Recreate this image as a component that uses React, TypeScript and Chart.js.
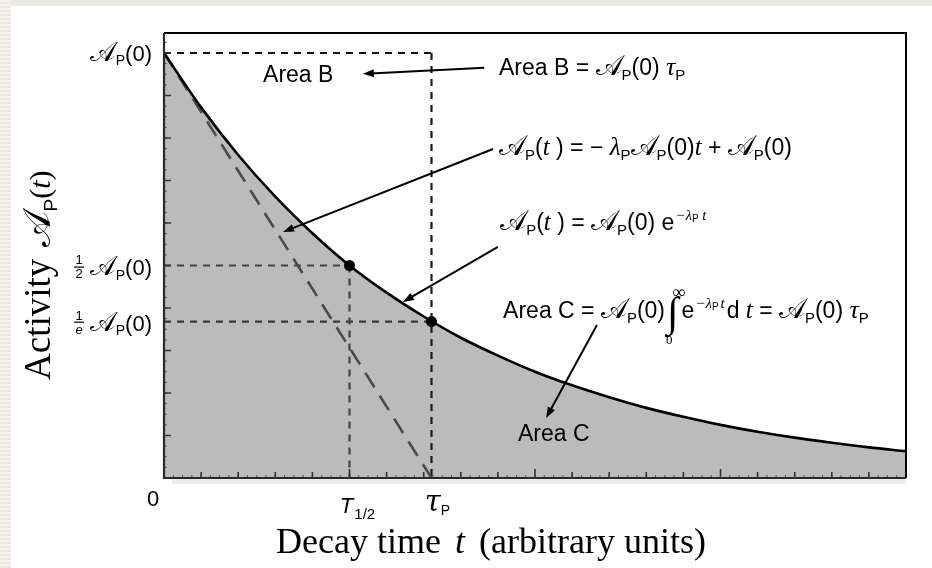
import React, { useEffect, useRef } from "react";
import { Chart, registerables } from "chart.js";

Chart.register(...registerables);

// ---------- data ----------
const decayTimes = [0, 1, 2, 3, 4, 5, 6, 7, 8, 9, 10, 11, 12, 13, 14, 15, 16, 17, 18, 19, 20];
const decayActivity = [10, 8.72, 7.6, 6.62, 5.76, 5.0, 4.36, 3.8, 3.3, 2.88, 2.5, 2.18, 1.9, 1.65, 1.44, 1.25, 1.09, 0.95, 0.83, 0.72, 0.63];
const tangentTimes = [0, 7.21];
const tangentActivity = [10, 0];
const halfLifeTime = 5;
const meanLifeTime = 7.21;
const initialActivity = 10;
const halfActivity = 5;
const eActivity = 3.68;
const markerTimes = [5, 7.21];
const markerActivity = [5, 3.68];
const xMinorTicks = [1, 2, 3, 4, 6, 7, 8, 9, 11, 12, 13, 14, 16, 17, 18, 19];
const xMajorTicks = [5, 10, 15];
const yTicks = [1, 2, 3, 4, 5, 6, 7, 8, 9, 10];
const xMax = 20;
const yMax = 10.47;

const SANS = '"Liberation Sans", Arial, sans-serif';
const SERIF = '"Liberation Serif", "Times New Roman", serif';
const SCRIPT = '"DejaVu Serif", "DejaVu Sans", serif';

type Run = { t: string; f: string; dy?: number; dx?: number; extra?: (ctx: CanvasRenderingContext2D, x: number, w: number, y: number) => void };

function drawRich(ctx: CanvasRenderingContext2D, runs: Run[], x: number, y: number, align: "left" | "right" | "center") {
  ctx.textBaseline = "alphabetic";
  ctx.textAlign = "left";
  let w = 0;
  for (const r of runs) {
    ctx.font = r.f;
    w += (r.dx || 0) + ctx.measureText(r.t).width;
  }
  let cx = align === "left" ? x : align === "right" ? x - w : x - w / 2;
  for (const r of runs) {
    ctx.font = r.f;
    cx += r.dx || 0;
    const rw = ctx.measureText(r.t).width;
    ctx.fillText(r.t, cx, y + (r.dy || 0));
    if (r.extra) r.extra(ctx, cx, rw, y);
    cx += rw;
  }
}

const sans = (s: number, t: string, dy = 0, dx = 0): Run => ({ t, f: `${s}px ${SANS}`, dy, dx });
const serif = (s: number, t: string, dy = 0, dx = 0): Run => ({ t, f: `${s}px ${SERIF}`, dy, dx });
const ital = (s: number, t: string, dy = 0, dx = 0): Run => ({ t, f: `italic ${s}px ${SERIF}`, dy, dx });
const scrA = (s: number, dx = 0): Run => ({ t: "𝒜", f: `${Math.round(s * 1.22)}px ${SCRIPT}`, dx });
const subP = (s: number, dy = 0): Run => ({ t: "P", f: `${Math.round(s * 0.64)}px ${SANS}`, dy: s * 0.2 + dy });
const AP = (s: number): Run[] => [scrA(s), subP(s)];

function arrow(ctx: CanvasRenderingContext2D, x1: number, y1: number, x2: number, y2: number) {
  const ang = Math.atan2(y2 - y1, x2 - x1);
  const hl = 11, hw = 4;
  ctx.save();
  ctx.strokeStyle = "#000";
  ctx.fillStyle = "#000";
  ctx.lineWidth = 2;
  ctx.beginPath();
  ctx.moveTo(x1, y1);
  ctx.lineTo(x2 - Math.cos(ang) * hl * 0.7, y2 - Math.sin(ang) * hl * 0.7);
  ctx.stroke();
  ctx.beginPath();
  ctx.moveTo(x2, y2);
  ctx.lineTo(x2 - Math.cos(ang) * hl - Math.sin(ang) * hw, y2 - Math.sin(ang) * hl + Math.cos(ang) * hw);
  ctx.lineTo(x2 - Math.cos(ang) * hl + Math.sin(ang) * hw, y2 - Math.sin(ang) * hl - Math.cos(ang) * hw);
  ctx.closePath();
  ctx.fill();
  ctx.restore();
}

const decorPlugin = {
  id: "decor",
  beforeDraw(chart: any) {
    const ctx = chart.ctx as CanvasRenderingContext2D;
    ctx.save();
    ctx.fillStyle = "#ffffff";
    ctx.fillRect(0, 0, chart.width, chart.height);
    ctx.fillStyle = "#ebe8e3";
    ctx.fillRect(0, 0, chart.width, 6);
    ctx.fillRect(0, 0, 11, chart.height);
    ctx.fillStyle = "#f3f1ee";
    for (let y = 0; y < chart.height; y += 4) ctx.fillRect(0, y, 11, 2);
    const { left, right, bottom } = chart.chartArea;
    ctx.fillStyle = "#ececec";
    ctx.fillRect(left + 8, bottom + 1, right - left - 8, 5);
    ctx.restore();
  },
  afterDraw(chart: any) {
    const ctx = chart.ctx as CanvasRenderingContext2D;
    const xs = chart.scales.x;
    const ys = chart.scales.y;
    const { left, right, top, bottom } = chart.chartArea;
    const px = (v: number) => xs.getPixelForValue(v);
    const py = (v: number) => ys.getPixelForValue(v);
    ctx.save();

    // frame
    ctx.strokeStyle = "#000";
    ctx.lineWidth = 2;
    ctx.beginPath();
    ctx.moveTo(left, top);
    ctx.lineTo(right, top);
    ctx.lineTo(right, bottom);
    ctx.stroke();
    ctx.strokeStyle = "#2a2a2a";
    ctx.lineWidth = 2.2;
    ctx.beginPath();
    ctx.moveTo(left, top);
    ctx.lineTo(left, bottom);
    ctx.lineTo(right, bottom);
    ctx.stroke();

    // ticks
    ctx.strokeStyle = "#333";
    ctx.lineWidth = 1.6;
    ctx.beginPath();
    for (const t of xMinorTicks) {
      ctx.moveTo(px(t), bottom);
      ctx.lineTo(px(t), bottom - 6);
    }
    for (const t of xMajorTicks) {
      ctx.moveTo(px(t), bottom);
      ctx.lineTo(px(t), bottom - 9);
    }
    for (const t of yTicks) {
      ctx.moveTo(left, py(t));
      ctx.lineTo(left + 7, py(t));
    }
    ctx.stroke();
    ctx.lineWidth = 1;
    ctx.beginPath();
    for (let t = 0.25; t < xMax; t += 0.25) {
      ctx.moveTo(px(t), bottom);
      ctx.lineTo(px(t), bottom - 2.5);
    }
    for (let t = 0.25; t < yMax; t += 0.25) {
      ctx.moveTo(left, py(t));
      ctx.lineTo(left + 2.5, py(t));
    }
    ctx.stroke();

    ctx.fillStyle = "#000";
    // y tick labels
    const ys22 = 22;
    drawRich(ctx, [...AP(ys22), sans(ys22, "(0)")], left - 12, py(initialActivity) + 8, "right");
    drawRich(ctx, [...AP(ys22), sans(ys22, "(0)")], left - 12, py(halfActivity) + 10, "right");
    drawRich(ctx, [...AP(ys22), sans(ys22, "(0)")], left - 12, py(eActivity) + 9, "right");
    // fractions
    const frac = (cxp: number, cy: number, den: Run) => {
      ctx.font = `13px ${SANS}`;
      ctx.textAlign = "center";
      ctx.fillText("1", cxp, cy - 2);
      ctx.font = den.f;
      ctx.fillText(den.t, cxp, cy + 12);
      ctx.fillRect(cxp - 5, cy, 10, 1.2);
      ctx.textAlign = "left";
    };
    frac(79, py(halfActivity) + 1, { t: "2", f: `13px ${SANS}` });
    frac(79, py(eActivity), { t: "e", f: `italic 13px ${SANS}` });

    // x tick labels
    drawRich(ctx, [sans(22, "0")], left - 11, bottom + 28, "center");
    drawRich(ctx, [{ t: "T", f: `italic 22px ${SANS}` }, sans(15, "1/2", 6, 1)], px(halfLifeTime) + 8, bottom + 35, "center");
    drawRich(ctx, [{ t: "τ", f: `italic 29px "DejaVu Serif", serif` }, subP(22, 0)], px(meanLifeTime) + 6, bottom + 33, "center");

    // axis titles
    drawRich(ctx, [serif(36, "Decay time "), ital(36, "t", 0, 5), serif(36, " (arbitrary units)", 0, 5)], 491, 553, "center");
    ctx.save();
    ctx.translate(50, 380);
    ctx.rotate(-Math.PI / 2);
    drawRich(ctx, [serif(37, "Activity "), scrA(31, 2), subP(30, 1), serif(30, "("), ital(30, "t"), serif(30, ")")], 0, 0, "left");
    ctx.restore();

    // annotations (anchored in data units)
    const fs = 23;
    drawRich(ctx, [sans(fs, "Area B")], px(2.67), py(9.51) + 8, "left");
    arrow(ctx, px(8.63), py(9.65), px(5.36), py(9.51));
    drawRich(ctx, [sans(fs, "Area B = "), ...AP(fs), sans(fs, "(0) "), ital(26, "τ"), subP(fs)], px(9.03), py(9.67) + 8, "left");

    drawRich(ctx, [...AP(fs), sans(fs, "("), ital(fs + 2, "t"), sans(fs, " ) = − "), ital(fs + 2, "λ"), subP(fs), ...AP(fs), sans(fs, "(0)"), ital(fs + 2, "t"), sans(fs, " + "), ...AP(fs), sans(fs, "(0)")], px(9.03), py(7.79) + 8, "left");
    arrow(ctx, px(8.87), py(7.74), px(3.21), py(5.79));

    drawRich(ctx, [...AP(fs), sans(fs, "("), ital(fs + 2, "t"), sans(fs, " ) = "), ...AP(fs), sans(fs, "(0) e"), ital(15, "−λ", -10, 1), sans(10, "P", -8), ital(15, " t", -10)], px(9.06), py(6.02) + 8, "left");
    arrow(ctx, px(9.0), py(5.44), px(6.44), py(4.14));

    const integral: Run = {
      t: "∫",
      f: `italic 42px ${SERIF}`,
      dy: 8,
      dx: 2,
      extra: (c, x0, w, y) => {
        c.font = `18px ${SERIF}`;
        c.fillText("∞", x0 + w * 0.45, y - 20);
        c.font = `13px ${SERIF}`;
        c.fillText("0", x0 - 1, y + 26);
      },
    };
    drawRich(ctx, [sans(fs, "Area C = "), ...AP(fs), sans(fs, "(0)"), integral, sans(fs, "e", 0, 3), ital(15, "−λ", -10, 1), sans(10, "P", -8), ital(15, "t", -10, 2), sans(fs, "d", 0, 2), ital(fs + 2, " t"), sans(fs, " = "), ...AP(fs), sans(fs, "(0) "), ital(26, "τ"), subP(fs)], px(9.14), py(3.95) + 8, "left");
    arrow(ctx, px(11.67), py(3.6), px(10.3), py(1.41));
    drawRich(ctx, [sans(fs, "Area C")], px(9.54), py(1.06) + 8, "left");

    ctx.restore();
  },
};

export default function App() {
  const ref = useRef<HTMLCanvasElement | null>(null);
  useEffect(() => {
    if (!ref.current) return;
    const pts = (xs: number[], ys: number[]) => xs.map((x, i) => ({ x, y: ys[i] }));
    const dashed = (data: { x: number; y: number }[], color: string) => ({
      data,
      borderColor: color,
      borderWidth: 2.2,
      borderDash: [7, 6],
      pointRadius: 0,
      fill: false,
      tension: 0,
    });
    const chart = new Chart(ref.current, {
      type: "line",
      data: {
        datasets: [
          {
            data: pts(markerTimes, markerActivity),
            showLine: false,
            pointRadius: 5.5,
            pointBackgroundColor: "#000",
            pointBorderColor: "#000",
            pointBorderWidth: 0,
          } as any,
          {
            data: pts(decayTimes, decayActivity),
            borderColor: "#000",
            borderWidth: 2.6,
            backgroundColor: "#bbbbbb",
            fill: "origin",
            pointRadius: 0,
            cubicInterpolationMode: "monotone",
          },
          {
            data: pts(tangentTimes, tangentActivity),
            borderColor: "#4a4a4a",
            borderWidth: 2.6,
            borderDash: [17, 10],
            pointRadius: 0,
            fill: false,
          },
          dashed(pts([0, meanLifeTime], [initialActivity, initialActivity]), "#111"),
          dashed(pts([meanLifeTime, meanLifeTime], [initialActivity, 0]), "#1a1a1a"),
          dashed(pts([0, halfLifeTime], [halfActivity, halfActivity]), "#444"),
          dashed(pts([halfLifeTime, halfLifeTime], [halfActivity, 0]), "#444"),
          dashed(pts([0, meanLifeTime], [eActivity, eActivity]), "#3a3a3a"),
        ],
      },
      options: {
        responsive: false,
        animation: false,
        layout: { padding: { left: 164, top: 33, right: 26, bottom: 90 } },
        scales: {
          x: { type: "linear", min: 0, max: xMax, display: false },
          y: { type: "linear", min: 0, max: yMax, display: false },
        },
        plugins: {
          legend: { display: false },
          tooltip: { enabled: false },
          filler: { drawTime: "beforeDatasetsDraw" } as any,
        },
      },
      plugins: [decorPlugin],
    });
    return () => chart.destroy();
  }, []);
  return (
    <div style={{ position: "fixed", left: 0, top: 0, width: 932, height: 568, background: "#fff" }}>
      <canvas ref={ref} width={932} height={568} style={{ display: "block" }} />
    </div>
  );
}
